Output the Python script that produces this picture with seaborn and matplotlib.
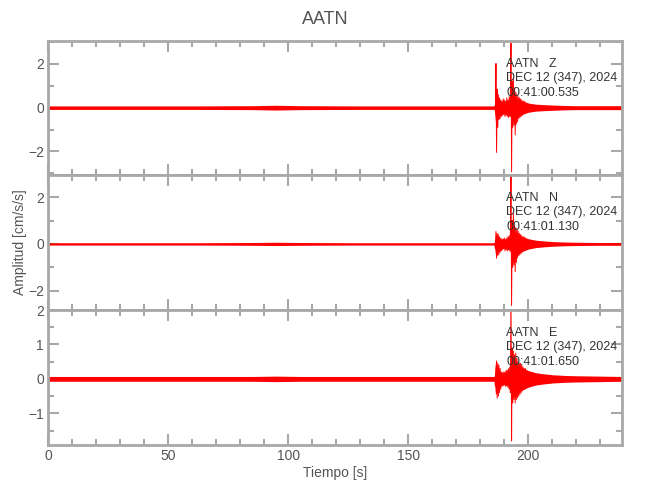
import numpy as np
import pandas as pd
import matplotlib
matplotlib.use('Agg')
import matplotlib.pyplot as plt
from matplotlib.ticker import MultipleLocator
import seaborn as sns

# Station / component info
station = 'AATN'
components = ['Z', 'N', 'E']
start_times = ['00:41:00.535', '00:41:01.130', '00:41:01.650']
date_label = 'DEC 12 (347), 2024'

# Envelope knots (s) and upper / lower envelope of the noise + coda
env_t = [0, 30, 60, 85, 95, 105, 130, 160, 185.8, 186.3, 187, 188.5, 190, 192, 192.7,
         193.5, 195, 197, 200, 203, 206, 210, 215, 220, 230, 239]
env_hi_z = [0.08, 0.08, 0.08, 0.09, 0.11, 0.09, 0.08, 0.08, 0.08, 0.6, 0.45, 0.3, 0.25, 0.3, 0.4,
            0.5, 0.4, 0.3, 0.21, 0.16, 0.14, 0.12, 0.1, 0.09, 0.09, 0.09]
env_lo_z = [-0.08, -0.08, -0.08, -0.09, -0.11, -0.09, -0.08, -0.08, -0.08, -0.65, -0.45, -0.33, -0.28, -0.33, -0.45,
            -0.6, -0.45, -0.32, -0.21, -0.16, -0.14, -0.12, -0.1, -0.09, -0.09, -0.09]
env_hi_n = [0.05, 0.05, 0.05, 0.06, 0.07, 0.06, 0.05, 0.05, 0.05, 0.4, 0.33, 0.18, 0.16, 0.2, 0.35,
            0.65, 0.45, 0.32, 0.22, 0.16, 0.13, 0.1, 0.08, 0.07, 0.06, 0.06]
env_lo_n = [-0.05, -0.05, -0.05, -0.06, -0.07, -0.06, -0.05, -0.05, -0.05, -0.45, -0.38, -0.22, -0.18, -0.22, -0.4,
            -0.75, -0.5, -0.34, -0.22, -0.16, -0.13, -0.1, -0.08, -0.07, -0.06, -0.06]
env_hi_e = [0.07, 0.07, 0.07, 0.07, 0.08, 0.07, 0.07, 0.07, 0.07, 0.4, 0.33, 0.17, 0.14, 0.2, 0.35,
            0.6, 0.45, 0.34, 0.24, 0.18, 0.15, 0.12, 0.1, 0.09, 0.08, 0.07]
env_lo_e = [-0.07, -0.07, -0.07, -0.07, -0.08, -0.07, -0.07, -0.07, -0.07, -0.45, -0.38, -0.19, -0.15, -0.23, -0.4,
            -0.55, -0.45, -0.34, -0.24, -0.18, -0.15, -0.12, -0.1, -0.09, -0.08, -0.07]

# Peak samples through the P and S arrivals (every 0.25 s from 186 s)
burst_t = np.arange(186.0, 200.0, 0.25)
burst_z = [0.05, -0.15, 2.02, -2.05, 0.85, -0.9, 0.6, -0.55, 0.45, -0.5, 0.35, -0.4, 0.3, -0.35,
           0.4, -0.3, 0.35, -0.4, 0.3, -0.35, 0.45, -0.4, 0.35, -0.45, 0.5, -0.4, 0.6, 2.95,
           -2.94, 1.2, -0.9, 1.35, -0.8, 0.9, -1.24, 0.7, -0.75, 0.6, -0.65, 0.5, -0.5, 0.45,
           -0.45, 0.4, -0.4, 0.35, -0.35, 0.3, -0.3, 0.3, -0.25, 0.25, -0.25, 0.2, -0.2, 0.2]
burst_n = [0.04, -0.2, 0.53, -0.61, 0.45, -0.5, 0.4, -0.45, 0.3, -0.35, 0.25, -0.3, 0.2, -0.25,
           0.22, -0.2, 0.25, -0.3, 0.2, -0.25, 0.25, -0.3, 0.3, -0.25, 0.35, -0.3, 0.5, 2.9,
           -2.64, 1.0, -1.0, 1.3, -0.9, 0.8, -1.19, 0.7, -0.8, 0.65, -0.6, 0.55, -0.5, 0.45,
           -0.45, 0.4, -0.4, 0.35, -0.35, 0.3, -0.3, 0.3, -0.25, 0.25, -0.22, 0.2, -0.2, 0.2]
burst_e = [0.05, -0.2, 0.3, 0.52, -0.56, 0.45, -0.5, 0.4, -0.4, 0.3, -0.3, 0.2, -0.22, 0.18,
           -0.2, 0.2, -0.18, 0.2, -0.22, 0.25, -0.2, 0.25, -0.25, 0.3, -0.3, 0.35, -0.4, 2.6,
           -1.8, 0.9, -0.7, 0.8, -0.6, 0.7, -0.7, 0.75, -0.6, 0.6, -0.55, 0.5, -0.5, 0.45,
           -0.45, 0.45, -0.4, 0.4, -0.35, 0.35, -0.3, 0.3, -0.3, 0.3, -0.25, 0.25, -0.25, 0.22]

env_hi = [env_hi_z, env_hi_n, env_hi_e]
env_lo = [env_lo_z, env_lo_n, env_lo_e]
bursts = [burst_z, burst_n, burst_e]
ylims = [(-3.08, 3.05), (-2.83, 2.95), (-1.92, 2.0)]
ysteps = [(2, 1), (2, 1), (1, 0.5)]

sns.set_theme(style='ticks')
plt.rcParams['font.family'] = ['Liberation Sans', 'DejaVu Sans']

grey = '#a8a8a8'
txt = '#555555'

fig = plt.figure(figsize=(6.5, 5), dpi=100)
positions = [(0.074, 0.65, 0.883, 0.268), (0.074, 0.38, 0.883, 0.27), (0.074, 0.11, 0.883, 0.27)]

for i, comp in enumerate(components):
    ax = fig.add_axes(positions[i])
    ax.fill_between(env_t, env_lo[i], env_hi[i], color='#ff0000', lw=0)
    df = pd.DataFrame({'t': burst_t, 'amp': bursts[i]})
    sns.lineplot(data=df, x='t', y='amp', ax=ax, color='#ff0000', lw=0.7, estimator=None)
    ax.set_xlim(0, 239)
    ax.set_ylim(*ylims[i])
    ax.xaxis.set_major_locator(MultipleLocator(50))
    ax.xaxis.set_minor_locator(MultipleLocator(10))
    ax.yaxis.set_major_locator(MultipleLocator(ysteps[i][0]))
    ax.yaxis.set_minor_locator(MultipleLocator(ysteps[i][1]))
    ax.tick_params(which='both', direction='in', top=True, right=True, color=grey,
                   width=1.5, labelcolor=txt, labelsize=10, pad=3)
    ax.tick_params(which='major', length=8)
    ax.tick_params(which='minor', length=4)
    for sp in ax.spines.values():
        sp.set_color(grey)
        sp.set_linewidth(2)
    ax.set_xlabel('')
    ax.set_ylabel('')
    if i < 2:
        ax.tick_params(labelbottom=False)
    else:
        ax.set_xlabel('Tiempo [s]', color=txt, fontsize=10, labelpad=2)
    if i == 1:
        ax.set_ylabel('Amplitud [cm/s/s]', color=txt, fontsize=10, labelpad=1)

    tr = ax.get_xaxis_transform()
    ax.text(190.8, 0.83, f'{station}   {comp}', transform=tr, va='center', fontsize=9, color='#333333')
    ax.text(190.8, 0.725, date_label, transform=tr, va='center', fontsize=9, color='#333333')
    ax.text(190.8, 0.615, start_times[i], transform=tr, va='center', fontsize=9, color='#333333')

fig.text(0.5, 0.962, station, ha='center', va='center', fontsize=13, color=txt)

fig.savefig('out.png', dpi=100)
